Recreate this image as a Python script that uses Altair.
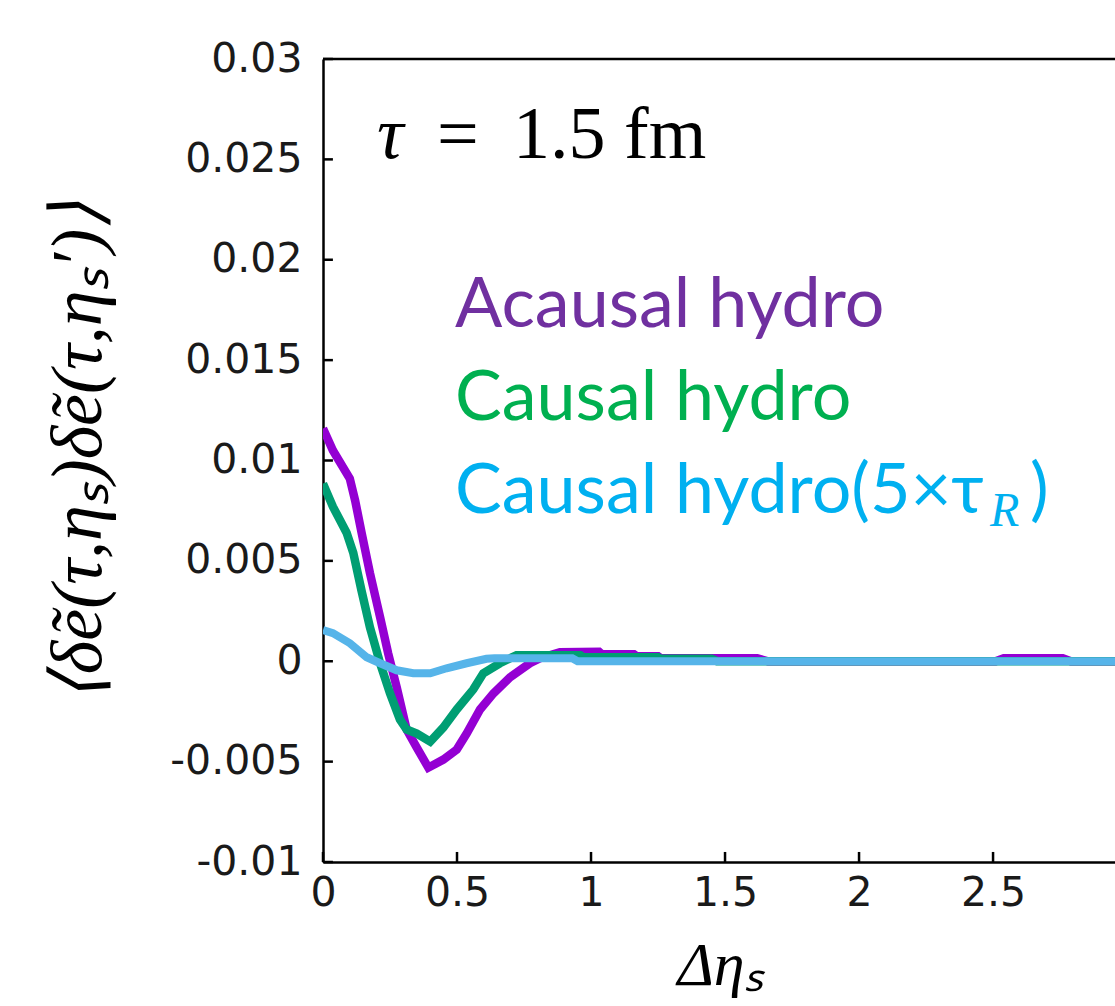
import altair as alt
import pandas as pd

# ---------------- data ----------------
acausal_x = [0.0, 0.037, 0.10, 0.12, 0.144, 0.175, 0.213, 0.243, 0.275, 0.312, 0.35, 0.393,
             0.449, 0.499, 0.536, 0.586, 0.636, 0.698, 0.772, 0.81, 0.884, 1.03, 1.04, 1.16,
             1.17, 1.25, 1.26, 1.62, 1.66, 2.51, 2.54, 2.76, 2.79, 2.955]
acausal_y = [0.0116, 0.0105, 0.0091, 0.0080, 0.0064, 0.0044, 0.0022, 0.0004, -0.0013, -0.0034,
             -0.0043, -0.0053, -0.0049, -0.0044, -0.0036, -0.0024, -0.0016, -0.0008, -0.0001,
             0.00015, 0.00045, 0.00047, 0.00035, 0.00035, 0.00025, 0.00025, 0.00015, 0.00015,
             0.0, 0.0, 0.00015, 0.00015, 0.0, 0.0]

causal_x = [0.0, 0.037, 0.088, 0.113, 0.144, 0.175, 0.213, 0.25, 0.287, 0.312, 0.35, 0.40,
            0.449, 0.499, 0.561, 0.598, 0.66, 0.722, 0.96, 0.97, 1.25, 1.26, 1.45, 1.47, 2.955]
causal_y = [0.00885, 0.0077, 0.0064, 0.0054, 0.0035, 0.0017, -0.0001, -0.0016, -0.0029, -0.0034,
            -0.0036, -0.0040, -0.0033, -0.0024, -0.0014, -0.0006, -0.0001, 0.0003, 0.0003,
            0.0002, 0.0002, 0.00012, 0.00012, 0.0, 0.0]

causal5_x = [0.0, 0.037, 0.10, 0.163, 0.213, 0.275, 0.337, 0.40, 0.461, 0.536, 0.61, 0.64,
             0.93, 0.95, 2.955]
causal5_y = [0.00155, 0.0014, 0.0009, 0.0002, -0.0001, -0.00045, -0.0006, -0.0006, -0.00035,
             -0.0001, 0.00012, 0.00015, 0.00015, 0.0, 0.0]

series_names = ["Acausal hydro", "Causal hydro", "Causal hydro(5×τR)"]
line_colors = ["#9400D3", "#009E73", "#56B4E9"]
line_widths = [8.5, 8.5, 8]

x_ticks = [0, 0.5, 1, 1.5, 2, 2.5]
y_ticks = [-0.01, -0.005, 0, 0.005, 0.01, 0.015, 0.02, 0.025, 0.03]
x_domain = [0, 2.955]
y_domain = [-0.01, 0.03]

legend_lines = ["Acausal hydro", "Causal hydro", "Causal hydro(5×τ"]
legend_colors = ["#7030A0", "#00B050", "#00B0F0"]
legend_y = [0.01664, 0.01200, 0.00737]

# ---------------- build ----------------
x_scale = alt.Scale(domain=x_domain, nice=False, zero=False)
y_scale = alt.Scale(domain=y_domain, nice=False, zero=False)

x_axis = alt.Axis(values=x_ticks, labelExpr="'' + datum.value", ticks=False, grid=False,
                  labelFlush=False,
                  domainColor="black", domainWidth=2.5, labelFont="DejaVu Sans",
                  labelFontSize=41, labelColor="#1a1a1a", labelPadding=11,
                  title="Δηₛ", titleFont="Liberation Serif", titleFontStyle="italic",
                  titleFontWeight="normal", titleFontSize=62, titleColor="black",
                  titleX=397, titleY=103, titleAlign="center", titleBaseline="middle")
y_axis = alt.Axis(values=y_ticks, labelExpr="'' + datum.value", ticks=False, grid=False,
                  labelFlush=False,
                  domainColor="black", domainWidth=2.5, labelFont="DejaVu Sans",
                  labelFontSize=41, labelColor="#1a1a1a", labelPadding=21,
                  title="⟨δẽ(τ,ηₛ)δẽ(τ,ηₛ′)⟩", titleFont="Liberation Serif",
                  titleFontStyle="italic", titleFontWeight="normal", titleFontSize=72,
                  titleColor="black", titleX=-245, titleY=392, titleAlign="center",
                  titleBaseline="middle", titleAngle=270)


def X(field):
    return alt.X(field, scale=x_scale, axis=x_axis)


def Y(field):
    return alt.Y(field, scale=y_scale, axis=y_axis)


layers = []
all_series = [(acausal_x, acausal_y), (causal_x, causal_y), (causal5_x, causal5_y)]
for i, (xs, ys) in enumerate(all_series):
    df = pd.DataFrame({"deta": xs, "corr": ys, "idx": list(range(len(xs)))})
    layers.append(
        alt.Chart(df).mark_line(color=line_colors[i], strokeWidth=line_widths[i], clip=True)
        .encode(x=X("deta:Q"), y=Y("corr:Q"), order="idx:Q")
    )

# inward ticks
ytick_df = pd.DataFrame({"v": y_ticks, "x0": [0.0] * len(y_ticks), "x1": [0.037] * len(y_ticks)})
ytick_layer = alt.Chart(ytick_df).mark_rule(color="black", strokeWidth=2.5).encode(
    x=X("x0:Q"), x2="x1:Q", y=Y("v:Q"))
xtick_df = pd.DataFrame({"v": x_ticks, "y0": [-0.01] * len(x_ticks), "y1": [-0.0095] * len(x_ticks)})
xtick_layer = alt.Chart(xtick_df).mark_rule(color="black", strokeWidth=2.5).encode(
    x=X("v:Q"), y=Y("y0:Q"), y2="y1:Q")

# top border
top_layer = alt.Chart(pd.DataFrame({"v": [y_domain[1]]})).mark_rule(
    color="black", strokeWidth=2.5).encode(y=Y("v:Q"))

# annotation tau = 1.5 fm (three pieces for math spacing)
tau_df = pd.DataFrame({"x": [0.2015], "y": [0.02506], "t": ["τ"]})
tau_layer = alt.Chart(tau_df).mark_text(font="Liberation Serif", fontStyle="italic", fontSize=74,
                                        align="left", baseline="alphabetic",
                                        color="black").encode(
    x=X("x:Q"), y=Y("y:Q"), text="t:N")
eq_df = pd.DataFrame({"x": [0.4254, 0.709], "y": [0.02506, 0.02506], "t": ["=", "1.5 fm"]})
eq_layer = alt.Chart(eq_df).mark_text(font="Liberation Serif", fontSize=74, align="left",
                                      baseline="alphabetic", color="black").encode(
    x=X("x:Q"), y=Y("y:Q"), text="t:N")

leg_df = pd.DataFrame({"x": [0.4925] * 3, "y": legend_y, "t": legend_lines, "c": legend_colors})
leg_layer = alt.Chart(leg_df).mark_text(font="Lato", fontSize=70, align="left",
                                        baseline="alphabetic").encode(
    x=X("x:Q"), y=Y("y:Q"), text="t:N", color=alt.Color("c:N", scale=None))

sub_df = pd.DataFrame({"x": [2.489], "y": [0.00672], "t": ["R"]})
sub_layer = alt.Chart(sub_df).mark_text(font="Liberation Serif", fontStyle="italic", fontSize=48,
                                        align="left", baseline="alphabetic",
                                        color="#00B0F0").encode(
    x=X("x:Q"), y=Y("y:Q"), text="t:N")
par_df = pd.DataFrame({"x": [2.638], "y": [0.00737], "t": [")"]})
par_layer = alt.Chart(par_df).mark_text(font="Lato", fontSize=70, align="left",
                                        baseline="alphabetic", color="#00B0F0").encode(
    x=X("x:Q"), y=Y("y:Q"), text="t:N")

chart = alt.layer(
    *layers, ytick_layer, xtick_layer, top_layer, tau_layer, eq_layer, leg_layer, sub_layer,
    par_layer
).properties(
    width=792, height=803,
    autosize=alt.AutoSizeParams(type="none"),
    padding={"left": 323, "top": 59, "right": 0, "bottom": 144},
    background="white",
).configure_view(stroke=None)

chart.save("out.html", embed_options={"renderer": "svg", "actions": False})
